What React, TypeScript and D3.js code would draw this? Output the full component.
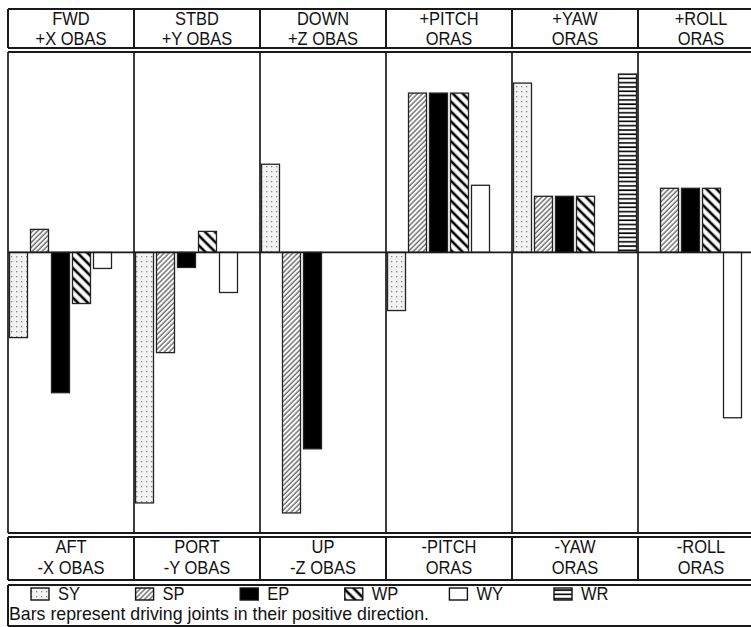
import React from "react";
import * as d3 from "d3";

const topLabels1 = ["FWD", "STBD", "DOWN", "+PITCH", "+YAW", "+ROLL"];
const topLabels2 = ["+X OBAS", "+Y OBAS", "+Z OBAS", "ORAS", "ORAS", "ORAS"];
const bottomLabels1 = ["AFT", "PORT", "UP", "-PITCH", "-YAW", "-ROLL"];
const bottomLabels2 = ["-X OBAS", "-Y OBAS", "-Z OBAS", "ORAS", "ORAS", "ORAS"];
const seriesNames = ["SY", "SP", "EP", "WP", "WY", "WR"];

const SY = [-0.425, -1.25, 0.44, -0.29, 0.845, 0];
const SP = [0.115, -0.5, -1.3, 0.795, 0.28, 0.32];
const EP = [-0.7, -0.075, -0.98, 0.795, 0.28, 0.32];
const WP = [-0.255, 0.105, 0, 0.795, 0.28, 0.32];
const WY = [-0.08, -0.2, 0, 0.335, 0, -0.825];
const WR = [0, 0, 0, 0, 0.89, 0];
const seriesValues = [SY, SP, EP, WP, WY, WR];

const W = 751;
const H = 627;
const left = 8;
const colW = 126;
const top = 9;
const headerBottom = 48;
const plotTop = 52;
const plotBottom = 533;
const labelTop = 537;
const labelBottom = 580;
const legendTop = 585;
const legendBottom = 626;

const fillFor = (name: string) => {
  switch (name) {
    case "SY": return "url(#pSY)";
    case "SP": return "url(#pSP)";
    case "EP": return "#000";
    case "WP": return "url(#pWP)";
    case "WY": return "#fff";
    case "WR": return "url(#pWR)";
  }
  return "#fff";
};

const font = "'Liberation Sans', Arial, Helvetica, sans-serif";

function Label({ x, y, children, anchor = "middle", ...rest }: any) {
  return (
    <text
      transform={`translate(${x},${y}) scale(0.97,1.12)`}
      fontFamily={font}
      fontSize={17}
      textAnchor={anchor}
      fill="#111"
      {...rest}
    >
      {children}
    </text>
  );
}

export default function App() {
  const x = d3.scaleBand<number>().domain(d3.range(6)).range([left, left + 6 * colW]).padding(0);
  const inner = d3.scaleBand<string>().domain(seriesNames).range([0, colW]).paddingInner(1 / 7).paddingOuter(1 / 14);
  const y = d3.scaleLinear().domain([-1.4, 1.0]).range([plotBottom, plotTop]);
  const y0 = y(0);

  const lineCol = "#1a1a1a";

  return (
    <svg width={W} height={H} style={{ position: "absolute", left: 0, top: 0, background: "#fff" }}>
      <defs>
        <pattern id="pSY" width="5" height="5" patternUnits="userSpaceOnUse">
          <rect width="5" height="5" fill="#f3f3f3" />
          <rect x="1" y="1" width="1.3" height="1.3" fill="#888" />
        </pattern>
        <pattern id="pSP" width="3.5" height="3.5" patternUnits="userSpaceOnUse" patternTransform="rotate(45)">
          <rect width="3.5" height="3.5" fill="#fff" />
          <line x1="1" y1="0" x2="1" y2="3.5" stroke="#444" strokeWidth="1.1" />
        </pattern>
        <pattern id="pWP" width="7" height="7" patternUnits="userSpaceOnUse" patternTransform="rotate(-45)">
          <rect width="7" height="7" fill="#fff" />
          <line x1="2" y1="0" x2="2" y2="7" stroke="#000" strokeWidth="2.6" />
        </pattern>
        <pattern id="pWR" width="4" height="4.3" patternUnits="userSpaceOnUse">
          <rect width="4" height="4.3" fill="#fff" />
          <line x1="0" y1="1" x2="4" y2="1" stroke="#000" strokeWidth="1.6" />
        </pattern>
      </defs>

      {/* bars */}
      {seriesValues.map((vals, si) =>
        vals.map((v, ci) =>
          v === 0 ? null : (
            <rect
              key={`${si}-${ci}`}
              x={(x(ci) as number) + (inner(seriesNames[si]) as number)}
              y={Math.min(y(v), y0)}
              width={inner.bandwidth()}
              height={Math.abs(y(v) - y0)}
              fill={fillFor(seriesNames[si])}
              stroke="#222"
              strokeWidth={1.3}
            />
          )
        )
      )}

      {/* zero line */}
      <line x1={left} x2={W} y1={y0} y2={y0} stroke={lineCol} strokeWidth={1.7} />

      {/* frame horizontal lines */}
      {[top, headerBottom, plotTop, plotBottom, labelTop, labelBottom, legendTop, legendBottom].map((yy, i) => (
        <line key={i} x1={left} x2={W} y1={yy} y2={yy} stroke={lineCol} strokeWidth={2} />
      ))}

      {/* vertical lines */}
      {d3.range(7).map((i) => {
        const xx = left + i * colW;
        return (
          <g key={i}>
            <line x1={xx} x2={xx} y1={top} y2={headerBottom} stroke={lineCol} strokeWidth={2} />
            <line x1={xx} x2={xx} y1={plotTop} y2={plotBottom} stroke={lineCol} strokeWidth={1.7} />
            <line x1={xx} x2={xx} y1={labelTop} y2={labelBottom} stroke={lineCol} strokeWidth={2} />
          </g>
        );
      })}
      <line x1={left} x2={left} y1={legendTop} y2={legendBottom} stroke={lineCol} strokeWidth={2} />

      {/* header labels */}
      {topLabels1.map((t, i) => {
        const cx = (x(i) as number) + colW / 2;
        return (
          <g key={i}>
            <Label x={cx} y={25}>{t}</Label>
            <Label x={cx} y={45}>{topLabels2[i]}</Label>
          </g>
        );
      })}

      {/* bottom labels */}
      {bottomLabels1.map((t, i) => {
        const cx = (x(i) as number) + colW / 2;
        return (
          <g key={i}>
            <Label x={cx} y={553}>{t}</Label>
            <Label x={cx} y={574}>{bottomLabels2[i]}</Label>
          </g>
        );
      })}

      {/* legend */}
      {seriesNames.map((n, i) => {
        const lx = 31 + i * 104.6;
        return (
          <g key={n}>
            <rect x={lx} y={588} width={18} height={12} fill={fillFor(n)} stroke="#111" strokeWidth={1.4} />
            <Label x={lx + 27} y={600} anchor="start">{n}</Label>
          </g>
        );
      })}
      <Label x={9} y={620} anchor="start" textLength={433} lengthAdjust="spacingAndGlyphs">
        Bars represent driving joints in their positive direction.
      </Label>
    </svg>
  );
}
